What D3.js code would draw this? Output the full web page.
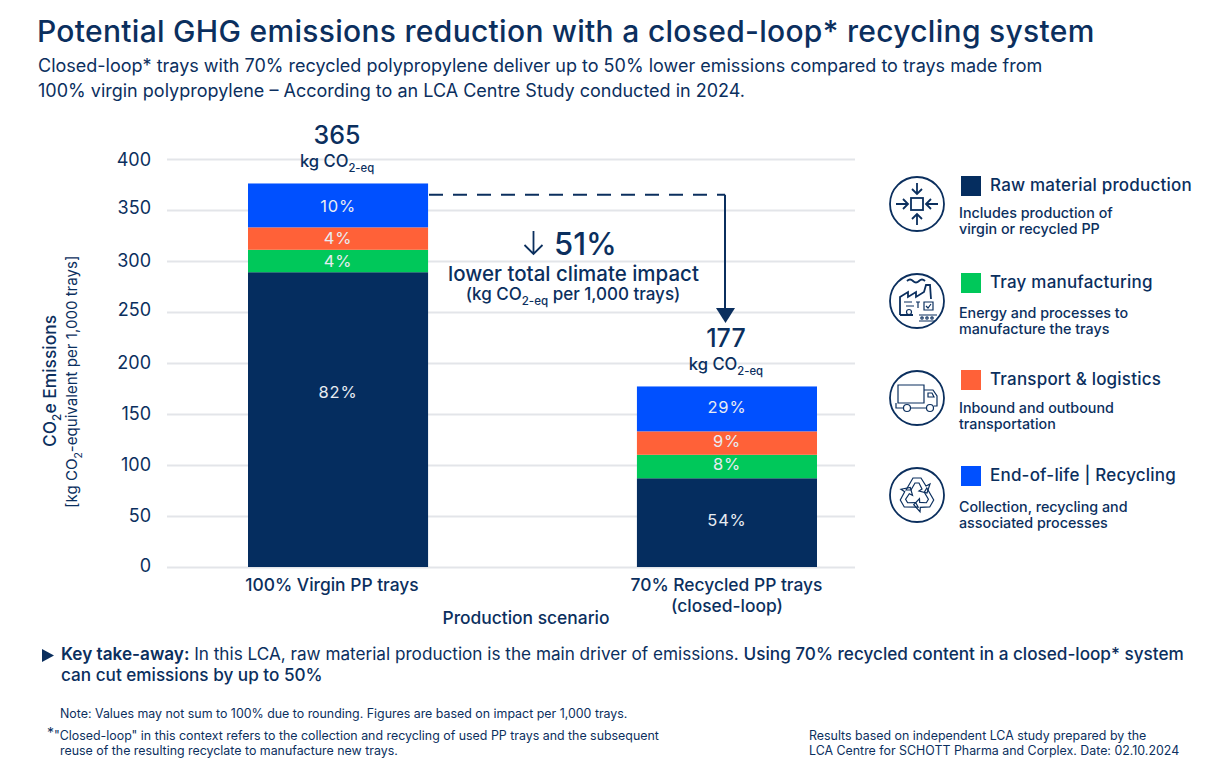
<!DOCTYPE html>
<html lang="en">
<head>
<meta charset="UTF-8">
<title>Potential GHG emissions reduction</title>
<script src="https://d3js.org/d3.v7.min.js"></script>
<style>
  body { margin: 0; background: #fff; }
  svg { display: block; }
  text { font-family: Inter, "Noto Sans", sans-serif; fill: #0b2f5e; }
  .grid line { stroke: #e3e5e9; stroke-width: 2px; }
  .grid path { display: none; }
  .grid text { font-size: 18px; }
  .icon * { fill: none; stroke: #0b2f5e; stroke-width: 1.2px; }
  .icon .main { stroke-width: 1.8px; }
</style>
</head>
<body>
<svg id="chart" width="1232" height="770"></svg>
<script>
const scenarios = ["100% Virgin PP trays", "70% Recycled PP trays"];
const stages = ["Raw material production", "Tray manufacturing", "Transport & logistics", "End-of-life | Recycling"];
const stageColors = ["#052d5f", "#00c85a", "#ff6138", "#0050ff"];
const virginValues = [289, 22, 22, 43];
const recycledValues = [87, 23, 23, 44];
const virginShares = ["82%", "4%", "4%", "10%"];
const recycledShares = ["54%", "8%", "9%", "29%"];
const totalLabels = ["365", "177"];
const yTicks = [0, 50, 100, 150, 200, 250, 300, 350, 400];
const stageNotes = [
  ["Includes production of", "virgin or recycled PP"],
  ["Energy and processes to", "manufacture the trays"],
  ["Inbound and outbound", "transportation"],
  ["Collection, recycling and", "associated processes"]
];

const svg = d3.select("#chart");
const x = d3.scaleBand().domain(scenarios).range([248, 817]).paddingInner(0.537).paddingOuter(0);
const y = d3.scaleLinear().domain([0, 400]).range([567, 159]);

function label(sel, px, py, size, str, opts = {}) {
  const t = sel.append("text").attr("x", px).attr("y", py)
    .style("font-size", size + "px")
    .style("font-weight", opts.weight || 400)
    .attr("text-anchor", opts.anchor || "start");
  if (opts.spacing) t.style("letter-spacing", opts.spacing + "px");
  if (opts.fill) t.style("fill", opts.fill);
  if (opts.rotate) t.attr("transform", `rotate(-90 ${px} ${py})`);
  // parts of the form [text] are drawn as subscript, the next part goes back up
  let back = 0;
  (Array.isArray(str) ? str : [str]).forEach(p => {
    if (Array.isArray(p)) {
      t.append("tspan").attr("dy", size * 0.3).style("font-size", (size * 0.68) + "px").text(p[0]);
      back = -size * 0.3;
      return;
    }
    const span = t.append("tspan").text(typeof p === "object" ? p.text : p);
    if (typeof p === "object") span.style("font-weight", p.weight);
    if (back) span.attr("dy", back);
    back = 0;
  });
  return t;
}

// heading
label(svg, 37, 42, 30, "Potential GHG emissions reduction with a closed-loop* recycling system", { weight: 500, spacing: 0.3 });
label(svg, 38, 72, 18, "Closed-loop* trays with 70% recycled polypropylene deliver up to 50% lower emissions compared to trays made from");
label(svg, 38, 97, 18, "100% virgin polypropylene \u2013 According to an LCA Centre Study conducted in 2024.");

// axis + gridlines
const axisG = svg.append("g").attr("class", "grid").attr("transform", "translate(167,0)")
  .call(d3.axisLeft(y).tickValues(yTicks).tickSize(-688).tickPadding(16));
// tick labels sit a little off their gridlines in the reference
axisG.selectAll(".tick text").attr("dy", d => ({ 0: "0.27em", 350: "0.18em", 250: "0.2em", 400: "0.38em" }[d] || "0.32em"));

// bars
const rows = [virginValues, recycledValues];
const shares = [virginShares, recycledShares];
const shareShift = [[-28, 0, -1, 1], [-3, -3, -2, -2]];
scenarios.forEach((name, i) => {
  let base = 0;
  rows[i].forEach((v, k) => {
    svg.append("rect").attr("x", x(name)).attr("width", x.bandwidth())
      .attr("y", y(base + v)).attr("height", y(base) - y(base + v))
      .attr("fill", stageColors[k]);
    label(svg, x(name) + x.bandwidth() / 2, y(base + v / 2) + 6 + shareShift[i][k], 16.5, shares[i][k],
      { anchor: "middle", fill: "#e8ecf2", spacing: 0.8 });
    base += v;
  });
  const cx = x(name) + x.bandwidth() / 2;
  label(svg, cx - 1, y(base) - 39, 25, totalLabels[i], { anchor: "middle", weight: 500 });
  label(svg, cx - 1, y(base) - 16, 16.6, ["kg CO", ["2-eq"]], { anchor: "middle", weight: 500 });
});

// category labels
label(svg, 332, 591, 17.4, scenarios[0], { anchor: "middle", weight: 500 });
label(svg, 726.500, 591, 17.4, scenarios[1], { anchor: "middle", weight: 500 });
label(svg, 727, 612, 17.4, "(closed-loop)", { anchor: "middle", weight: 500 });
label(svg, 526, 624, 17.4, "Production scenario", { anchor: "middle", weight: 500 });

// y titles
label(svg, 56, 447, 17.4, ["CO", ["2"], "e Emissions"], { rotate: true, weight: 500 });
label(svg, 77, 508, 15.1, ["[kg CO", ["2"], "-equivalent per 1,000 trays]"], { rotate: true });

// reduction connector
const arrowTop = y(d3.sum(virginValues) - 11);
svg.append("path").attr("d", `M429 ${arrowTop}H725`).attr("fill", "none")
  .attr("stroke", "#0b2f5e").attr("stroke-width", 2).attr("stroke-dasharray", "14 10");
svg.append("path").attr("d", `M725 ${arrowTop}V310`).attr("fill", "none")
  .attr("stroke", "#0b2f5e").attr("stroke-width", 2);
svg.append("path").attr("d", "M716 308H735L725.5 323Z").attr("fill", "#0b2f5e");

// 51% callout
svg.append("path").attr("d", "M533.500 231V254M524.500 245L533.500 254L542.500 245").attr("fill", "none")
  .attr("stroke", "#0b2f5e").attr("stroke-width", 1.8);
label(svg, 554, 255, 31, "51%", { weight: 500 });
label(svg, 573.500, 281, 20.5, "lower total climate impact", { anchor: "middle", weight: 500 });
label(svg, 573, 300, 17, ["(kg CO", ["2-eq"], " per 1,000 trays)"], { anchor: "middle", weight: 500 });

// legend
const legendTitleY = [191, 288, 385, 481];
const legendNoteY = [218, 318, 413, 512];
const iconY = [204, 301, 398, 495];
stages.forEach((s, i) => {
  svg.append("rect").attr("x", 961).attr("y", legendTitleY[i] - 15).attr("width", 20).attr("height", 20)
    .attr("fill", stageColors[i]);
  label(svg, 990, legendTitleY[i], 17, s, { weight: 500, spacing: 0.2 });
  stageNotes[i].forEach((n, j) => label(svg, 959, legendNoteY[i] + j * 16, 14.3, n, { weight: 500 }));
});

// legend icons
const icons = iconY.map(cy => svg.append("g").attr("class", "icon").attr("transform", `translate(917,${cy})`));
icons.forEach(g => g.append("circle").attr("class", "main").attr("r", 27));
// raw material: arrows around a square
icons[0].append("rect").attr("class", "main").attr("x", -6).attr("y", -6).attr("width", 12).attr("height", 12);
icons[0].append("path").attr("class", "main")
  .attr("d", "M0-21V-10M-5-15L0-10L5-15M0 21V10M-5 15L0 10L5 15M-21 0H-9M-14-5L-9 0L-14 5M21 0H9M14-5L9 0L14 5");
// factory
icons[1].append("path").attr("class", "main").attr("d", "M-17 14V-4L-9-9V-4L-1-9V-4L7-9L9-16H13L14-2M-17 14H-4M-10-20Q-7-23-4-20T2-20T8-20");
icons[1].append("path").attr("d", "M-13 1H-5M-11 5H-3M-1 1H3M1 1V7M2 14H20M2 20H18");
icons[1].append("path").attr("d", "M7 1H16V9H7ZM9 5L11 7L14 3");
icons[1].append("circle").attr("cx", -8).attr("cy", 11).attr("r", 2.5);
icons[1].selectAll("circle.dot").data([5, 10, 15]).enter().append("circle").attr("class", "dot")
  .attr("cx", d => d).attr("cy", 17).attr("r", 1.2);
// truck
icons[2].append("path").attr("d", "M-19-13H7V5H-19ZM7-8H16L20-2V8H17M-21 5V10H-14M-6 10H9M-6 5H7M11-5H15L17-1H11Z");
icons[2].append("circle").attr("cx", -10).attr("cy", 10).attr("r", 3.5);
icons[2].append("circle").attr("cx", 13).attr("cy", 10).attr("r", 3.5);
// recycling: same bent arrow three times
[0, 120, 240].forEach(a => icons[3].append("path").attr("transform", `rotate(${a})`)
  .attr("d", "M-11-5L-4-17H4L9-9L13-11L10-2L2-4L5-6L2-12H-2L-6-5Z"));

// key take-away
svg.append("path").attr("d", "M42 649L54 655.500L42 662Z").attr("fill", "#0b2f5e");
label(svg, 61, 660, 17.15, [{ text: "Key take-away:", weight: 600 }, " In this LCA, raw material production is the main driver of emissions. ", { text: "Using 70% recycled content in a closed-loop* system", weight: 500 }]);
label(svg, 61, 681, 17.15, "can cut emissions by up to 50%", { weight: 500 });

// footnotes
label(svg, 60, 718, 12.4, "Note: Values may not sum to 100% due to rounding. Figures are based on impact per 1,000 trays.");
label(svg, 47, 738, 14, "*");
label(svg, 54, 740, 12.4, "\"Closed-loop\" in this context refers to the collection and recycling of used PP trays and the subsequent");
label(svg, 60, 755, 12.4, "reuse of the resulting recyclate to manufacture new trays.");
label(svg, 809, 740, 12.4, "Results based on independent LCA study prepared by the");
label(svg, 809, 755, 12.4, "LCA Centre for SCHOTT Pharma and Corplex. Date: 02.10.2024");
</script>
</body>
</html>
